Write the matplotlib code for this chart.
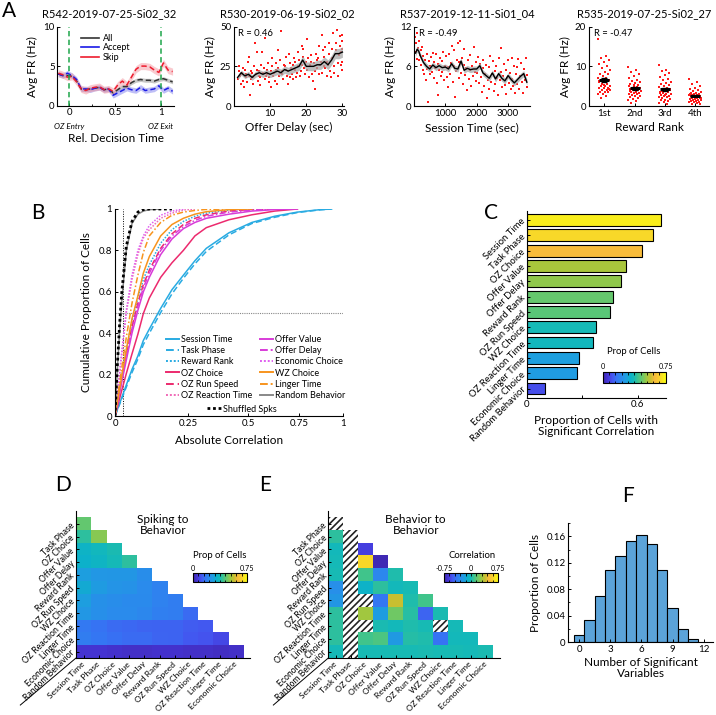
import numpy as np
import matplotlib
matplotlib.use('Agg')
import matplotlib.pyplot as plt
from matplotlib.colors import LinearSegmentedColormap, Normalize
from matplotlib.cm import ScalarMappable
from matplotlib.lines import Line2D
from matplotlib.patches import Rectangle
import matplotlib.ticker as mticker

plt.rcParams['font.family'] = ['Lato', 'DejaVu Sans']
plt.rcParams['hatch.linewidth'] = 1.2
plt.rcParams['axes.linewidth'] = 0.8

# ---------------- DATA ----------------
# Panel A1: firing rate vs relative decision time
a1_time = [-0.12, -0.07, -0.02, 0.03, 0.08, 0.13, 0.18, 0.23, 0.28, 0.33, 0.38, 0.43, 0.48,
           0.53, 0.58, 0.63, 0.68, 0.73, 0.78, 0.83, 0.88, 0.93, 0.98, 1.03, 1.08, 1.13]
a1_skip = [4.1, 3.9, 3.6, 3.7, 3.0, 2.1, 1.9, 2.2, 2.3, 2.4, 2.0, 2.1, 1.8,
           2.6, 3.1, 2.6, 3.6, 4.6, 5.0, 5.0, 4.9, 4.5, 4.2, 5.4, 4.5, 4.3]
a1_accept = [4.0, 3.8, 4.1, 3.8, 3.3, 2.1, 2.1, 2.0, 2.2, 2.3, 2.0, 2.1, 1.3,
             1.6, 1.9, 2.2, 2.0, 1.9, 2.3, 1.9, 2.0, 2.1, 2.5, 1.9, 2.2, 1.8]
a1_all = [4.0, 3.8, 3.8, 3.7, 3.1, 2.1, 2.0, 2.1, 2.2, 2.3, 2.0, 2.1, 1.6,
          2.0, 2.4, 2.4, 2.9, 3.2, 3.3, 3.2, 3.2, 3.1, 3.3, 3.4, 3.2, 3.0]
a1_sem = {'All': 0.25, 'Accept': 0.35, 'Skip': 0.45}

# Panel A2: firing rate vs offer delay
a2_x = [1.2, 1.5, 1.8, 1.3, 1.7, 2.1, 2.4, 2.6, 2.9, 2.3, 3.0, 3.3, 3.6, 3.8, 3.4,
        4.1, 4.4, 4.6, 4.2, 4.8, 5.0, 5.3, 5.6, 5.2, 5.9, 6.1, 6.4, 6.7, 6.3, 6.9,
        7.0, 7.3, 7.6, 7.2, 7.8, 8.1, 8.5, 8.7, 8.3, 8.9, 9.0, 9.4, 9.6, 9.2, 9.8,
        10.1, 10.3, 10.6, 10.8, 10.4, 11.0, 11.3, 11.7, 11.5, 11.9, 12.2, 12.5, 12.8, 12.1, 12.6,
        13.0, 13.3, 13.6, 13.8, 13.4, 14.1, 14.5, 14.7, 14.3, 14.9, 15.0, 15.4, 15.6, 15.2, 15.8,
        16.1, 16.4, 16.7, 16.3, 16.9, 17.0, 17.3, 17.6, 17.2, 17.8, 18.1, 18.5, 18.7, 18.3, 18.9,
        19.0, 19.4, 19.6, 19.2, 19.8, 20.1, 20.4, 20.7, 20.3, 20.9, 21.0, 21.3, 21.6, 21.2, 21.8,
        22.1, 22.5, 22.7, 22.3, 22.9, 23.0, 23.4, 23.6, 23.2, 23.8, 24.1, 24.4, 24.7, 24.3, 24.9,
        25.0, 25.3, 25.6, 25.2, 25.8, 26.1, 26.4, 26.7, 26.3, 26.9, 27.0, 27.3, 27.6, 27.2, 27.8,
        28.1, 28.5, 28.7, 28.3, 28.9, 29.0, 29.4, 29.6, 29.2, 29.8, 30.0, 29.95, 29.9, 30.0, 29.7]
a2_y = [17, 22, 14, 25, 19, 20, 16, 24, 12, 21, 23, 18, 15, 28, 20,
        19, 7, 22, 31, 17, 21, 14, 25, 18, 40, 20, 34, 16, 23, 19,
        22, 18, 26, 13, 34, 21, 43, 17, 24, 19, 20, 27, 15, 23, 18,
        22, 12, 25, 19, 30, 21, 16, 27, 23, 14, 24, 19, 29, 35, 21,
        47, 22, 17, 26, 20, 25, 31, 19, 23, 14, 22, 27, 18, 33, 24,
        20, 26, 30, 17, 23, 28, 21, 34, 18, 25, 29, 22, 38, 19, 26,
        31, 24, 20, 36, 28, 23, 30, 18, 42, 26, 25, 32, 20, 28, 16,
        27, 11, 33, 22, 29, 24, 38, 20, 30, 26, 28, 21, 35, 45, 25,
        31, 24, 19, 37, 28, 26, 40, 22, 33, 18, 30, 46, 25, 36, 21,
        35, 48, 27, 40, 19, 32, 44, 26, 38, 23, 36, 41, 28, 45, 34]
a2_line_x = list(range(1, 31))
a2_line_y = [18, 21, 19, 20, 18, 20, 21, 20, 21, 20, 21, 22, 21, 23, 22,
             23, 24, 25, 29, 25, 25, 25, 26, 26, 28, 26, 29, 33, 33, 34]

# Panel A3: firing rate vs session time
a3_t = [20, 40, 60, 80, 110, 130, 150, 170, 190, 210, 230, 260, 280, 300, 330, 350, 380, 400, 430, 460,
        480, 500, 520, 550, 570, 600, 630, 650, 680, 700, 730, 760, 780, 800, 820, 850, 880, 900, 930, 960,
        980, 1010, 1040, 1070, 1090, 1120, 1150, 1180, 1200, 1230, 1260, 1290, 1310, 1340, 1370, 1390,
        1420, 1450, 1470, 1500, 1530, 1550, 1580, 1600, 1630, 1660, 1690, 1720, 1750, 1780, 1800, 1830,
        1860, 1880, 1910, 1940, 1970, 1990, 2020, 2050, 2080, 2100, 2130, 2160, 2190, 2210, 2240, 2270,
        2290, 2320, 2350, 2380, 2400, 2430, 2460, 2480, 2510, 2540, 2570, 2590, 2620, 2650, 2680, 2700,
        2730, 2760, 2780, 2810, 2840, 2870, 2890, 2920, 2950, 2980, 3000, 3030, 3060, 3090, 3110, 3140,
        3170, 3190, 3220, 3250, 3280, 3300, 3330, 3360, 3390, 3420, 3450, 3480, 3500, 3530, 3560, 3590, 3600]
a3_y = [10.5, 8.2, 9.6, 7.1, 11.0, 8.8, 6.9, 9.9, 7.7, 8.4, 6.2, 8.9, 5.4, 7.5, 4.8, 6.9, 3.9, 7.9, 5.6, 0.6,
        6.8, 4.9, 6.1, 7.4, 5.1, 8.0, 4.3, 6.6, 5.8, 7.9, 3.5, 6.4, 1.7, 5.5, 7.2, 4.6, 6.8, 5.2, 8.1, 3.9,
        6.1, 7.5, 4.4, 5.9, 2.8, 7.8, 4.9, 6.5, 9.1, 3.6, 6.0, 8.4, 1.4, 5.3, 7.0, 9.6,
        4.2, 6.6, 9.9, 5.0, 7.3, 3.3, 6.2, 8.6, 4.7, 5.8, 2.4, 6.9, 4.1, 5.4, 7.7, 3.0,
        6.1, 4.6, 8.9, 5.2, 3.8, 6.6, 5.0, 7.4, 3.5, 6.3, 4.4, 2.1, 5.7, 7.0, 3.1, 4.8,
        6.2, 1.2, 4.0, 5.9, 2.6, 7.6, 3.7, 4.9, 6.8, 2.3, 5.3, 3.4, 6.0, 4.2, 1.6, 7.2,
        3.9, 5.1, 8.8, 2.8, 4.6, 6.4, 3.2, 5.5, 1.8, 4.3, 6.9, 3.5, 5.0, 2.5, 7.3, 4.1,
        3.0, 6.0, 2.0, 4.8, 5.9, 3.3, 7.1, 2.6, 4.5, 6.5, 3.6, 1.9, 5.6, 4.0, 7.2, 2.9, 4.7]
a3_line_t = [50, 100, 150, 200, 300, 400, 500, 600, 700, 800, 900, 1000, 1100, 1200, 1300, 1400,
             1500, 1600, 1700, 1800, 1900, 2000, 2100, 2200, 2300, 2400, 2500, 2600, 2700, 2800,
             2900, 3000, 3100, 3200, 3300, 3400, 3500, 3600]
a3_line_y = [8.0, 8.6, 8.3, 7.6, 6.6, 6.0, 5.6, 6.2, 5.8, 6.1, 5.8, 5.9, 5.6, 6.4, 5.7, 5.6,
             6.8, 5.4, 5.7, 5.5, 5.6, 5.6, 6.1, 5.0, 4.6, 4.2, 5.0, 4.1, 4.9, 4.2,
             3.8, 4.6, 4.0, 3.5, 4.0, 4.5, 4.9, 3.6]

# Panel A4: firing rate by reward rank
a4_ranks = ['1st', '2nd', '3rd', '4th']
a4_1st = [17, 12.5, 12, 11.5, 11, 10.5, 10, 9.5, 9, 8.5, 8, 8, 7.5, 7, 7, 6.5, 6.5, 6, 6, 5.5,
          5.5, 5, 5, 5, 4.5, 4.5, 4.5, 4, 4, 4, 3.5, 3.5, 3.5, 3, 3, 2.5, 2, 4.2, 5.2, 6.2]
a4_2nd = [9.8, 9, 8.5, 8, 7.5, 7, 6.5, 6.2, 6, 5.8, 5.5, 5.2, 5, 5, 4.8, 4.6, 4.5, 4.4, 4.2, 4,
          4, 3.8, 3.6, 3.5, 3.3, 3.2, 3, 3, 2.8, 2.6, 2.5, 2.2, 2, 1.8, 1.5, 1.2, 0.8, 4.3, 5.3, 3.7]
a4_3rd = [10.3, 9, 8.8, 8.2, 7.8, 7.2, 6.8, 6.5, 6, 5.8, 5.5, 5.2, 5, 4.8, 4.5, 4.3, 4, 3.8, 3.6, 3.5,
          3.3, 3.1, 3, 2.8, 2.6, 2.5, 2.3, 2.2, 2, 1.8, 1.6, 1.5, 1.2, 1, 0.8, 0.5, 3.9, 4.4, 2.9, 3.4]
a4_4th = [6.8, 6, 5.5, 5, 4.6, 4.3, 4, 3.8, 3.6, 3.4, 3.2, 3, 3, 2.9, 2.8, 2.7, 2.6, 2.5, 2.4, 2.3,
          2.2, 2.1, 2, 2, 1.9, 1.8, 1.7, 1.6, 1.5, 1.4, 1.3, 1.2, 1.1, 1, 0.9, 0.8, 0.6, 0.5, 2.5, 3.1]
a_titles = ['R542-2019-07-25-Si02_32', 'R530-2019-06-19-Si02_02', 'R537-2019-12-11-Si01_04',
            'R535-2019-07-25-Si02_27']

# Panel B: cumulative distributions of absolute correlation (x axis is compressive)
cdf_x = [0, 0.007, 0.014, 0.021, 0.035, 0.053, 0.072, 0.09, 0.11, 0.149, 0.189, 0.231, 0.275, 0.32,
         0.414, 0.516, 0.625, 0.741, 0.866, 0.932]
cdf_session = [0, 0.03, 0.06, 0.09, 0.15, 0.225, 0.29, 0.365, 0.42, 0.52, 0.61, 0.68, 0.75, 0.81,
               0.885, 0.935, 0.965, 0.985, 0.997, 1.0]
cdf_taskphase = [0, 0.028, 0.056, 0.084, 0.14, 0.21, 0.275, 0.345, 0.40, 0.50, 0.59, 0.665, 0.735,
                 0.795, 0.875, 0.93, 0.96, 0.983, 0.996, 1.0]
cdf_rewardrank = [0, 0.065, 0.13, 0.195, 0.32, 0.46, 0.57, 0.66, 0.73, 0.835, 0.9, 0.94, 0.965,
                  0.98, 0.995, 1.0]
cdf_ozchoice = [0, 0.042, 0.084, 0.125, 0.205, 0.30, 0.395, 0.495, 0.57, 0.67, 0.74, 0.80, 0.87,
                0.91, 0.948, 0.972, 0.99, 1.0]
cdf_ozrunspeed = [0, 0.062, 0.124, 0.185, 0.30, 0.43, 0.545, 0.635, 0.705, 0.81, 0.88, 0.925,
                  0.955, 0.972, 0.99, 0.998, 1.0]
cdf_ozrt = [0, 0.1, 0.2, 0.3, 0.5, 0.66, 0.78, 0.86, 0.9, 0.955, 0.98, 0.995, 1.0]
cdf_offervalue = [0, 0.055, 0.11, 0.165, 0.27, 0.40, 0.51, 0.60, 0.67, 0.78, 0.855, 0.905, 0.935,
                  0.955, 0.975, 0.99, 0.997, 1.0]
cdf_offerdelay = [0, 0.06, 0.12, 0.18, 0.29, 0.42, 0.53, 0.62, 0.69, 0.80, 0.87, 0.915, 0.945,
                  0.965, 0.985, 0.995, 1.0]
cdf_econ = [0, 0.105, 0.21, 0.315, 0.51, 0.68, 0.8, 0.87, 0.92, 0.97, 0.99, 1.0]
cdf_wzchoice = [0, 0.065, 0.13, 0.195, 0.32, 0.47, 0.58, 0.69, 0.77, 0.87, 0.925, 0.955, 0.975,
                0.987, 0.997, 1.0]
cdf_linger = [0, 0.08, 0.16, 0.235, 0.38, 0.545, 0.68, 0.79, 0.87, 0.935, 0.97, 0.985, 0.993,
              0.998, 1.0]
cdf_random = [0, 0.22, 0.41, 0.56, 0.8, 0.93, 0.975, 0.99, 0.997, 1.0]
cdf_shuffled = [0, 0.24, 0.44, 0.6, 0.82, 0.94, 0.985, 0.997, 1.0, 1.0, 1.0]
sig_threshold = 0.025

# Panel C: proportion of cells with significant correlation
c_vars = ['Session Time', 'Task Phase', 'OZ Choice', 'Offer Value', 'Offer Delay', 'Reward Rank',
          'OZ Run Speed', 'WZ Choice', 'OZ Reaction Time', 'Linger Time', 'Economic Choice',
          'Random Behavior']
c_props = [0.725, 0.685, 0.625, 0.535, 0.508, 0.464, 0.45, 0.374, 0.358, 0.28, 0.271, 0.098]

# Panels D/E labels
de_xlabels = ['Session Time', 'Task Phase', 'OZ Choice', 'Offer Value', 'Offer Delay', 'Reward Rank',
              'OZ Run Speed', 'WZ Choice', 'OZ Reaction Time', 'Linger Time', 'Economic Choice']
de_ylabels = ['Task Phase', 'OZ Choice', 'Offer Value', 'Offer Delay', 'Reward Rank', 'OZ Run Speed',
              'WZ Choice', 'OZ Reaction Time', 'Linger Time', 'Economic Choice', 'Random Behavior']

# Panel D: spiking-to-behavior proportion of cells (lower triangle rows)
d_rows = [
    [0.46],
    [0.40, 0.50],
    [0.34, 0.36, 0.38],
    [0.33, 0.345, 0.37, 0.40],
    [0.28, 0.26, 0.255, 0.255, 0.23],
    [0.31, 0.27, 0.25, 0.245, 0.225, 0.20],
    [0.28, 0.24, 0.23, 0.22, 0.22, 0.20, 0.19],
    [0.26, 0.235, 0.225, 0.225, 0.215, 0.195, 0.19, 0.15],
    [0.18, 0.165, 0.15, 0.145, 0.14, 0.135, 0.135, 0.125, 0.12],
    [0.19, 0.17, 0.16, 0.15, 0.15, 0.14, 0.135, 0.12, 0.11, 0.09],
    [0.05, 0.05, 0.045, 0.04, 0.04, 0.045, 0.045, 0.04, 0.04, 0.035, 0.04],
]

# Panel E: behavior-to-behavior correlation (nan = undefined, hatched)
nan = float('nan')
e_rows = [
    [nan],
    [0.05, nan],
    [-0.02, nan, -0.6],
    [-0.01, nan, 0.62, -0.72],
    [0.0, nan, 0.09, -0.32, 0.02],
    [-0.28, nan, -0.08, 0.05, -0.02, 0.0],
    [-0.24, nan, nan, -0.4, 0.39, 0.02, 0.09],
    [0.05, nan, 0.30, -0.2, 0.2, 0.04, -0.47, 0.01],
    [0.05, nan, nan, 0.01, -0.02, 0.02, 0.0, nan, -0.01],
    [0.05, nan, 0.09, 0.12, -0.22, 0.03, 0.02, -0.42, -0.02, -0.02],
    [-0.01, nan, 0.0, 0.0, 0.0, 0.0, 0.01, 0.0, 0.0, -0.01, 0.01],
]

# Panel F: histogram of number of significant variables
f_counts = [0, 1, 2, 3, 4, 5, 6, 7, 8, 9, 10, 11]
f_props = [0.010, 0.034, 0.069, 0.109, 0.131, 0.153, 0.163, 0.148, 0.109, 0.051, 0.019, 0.0045]

# ---------------- STYLE ----------------
parula = LinearSegmentedColormap.from_list('parula_like', [
    (0.00, '#3E26A8'), (0.08, '#4636DA'), (0.15, '#4456F0'), (0.22, '#3674F4'),
    (0.30, '#2A8CEC'), (0.37, '#1E9EE0'), (0.44, '#0CB2CA'), (0.50, '#16BAB6'),
    (0.56, '#40C48C'), (0.63, '#6CC868'), (0.70, '#A0C840'), (0.76, '#C8C030'),
    (0.83, '#F8BA3C'), (0.90, '#F8D22C'), (1.00, '#F9FB14')])

W, H = 716, 715
fig = plt.figure(figsize=(W / 100, H / 100), dpi=100)


def add_ax(x0, y0, x1, y1):
    return fig.add_axes([x0 / W, 1 - y1 / H, (x1 - x0) / W, (y1 - y0) / H])


def style(ax, size=7):
    for s in ['top', 'right']:
        ax.spines[s].set_visible(False)
    ax.tick_params(direction='in', length=2.5, width=0.7, labelsize=size, pad=2)
    ax.tick_params(which='minor', direction='in', length=1.5, width=0.6)


def ftext(x, y, s, **kw):
    return fig.text(x / W, 1 - y / H, s, **kw)


LBL = 8.5
TTL = 8.0
RED = '#FF1A1A'

# titles of the A row
for title, xc in zip(a_titles, [109, 287.5, 467, 644]):
    ftext(xc, 14, title, fontsize=TTL, ha='center', va='center')

# ---- A1 ----
ax = add_ax(57.4, 26.7, 174.4, 105.5)
style(ax)
t = np.array(a1_time)
series = [('All', a1_all, '#333333', '#9A9A9A'),
          ('Accept', a1_accept, '#1A1AE6', '#8C8CF0'),
          ('Skip', a1_skip, '#EE1C2E', '#F5A0A8')]
for name, vals, col, band in series:
    v = np.array(vals)
    ax.fill_between(t, v - a1_sem[name], v + a1_sem[name], color=band, alpha=0.55, lw=0)
for name, vals, col, band in series:
    ax.plot(t, vals, color=col, lw=1.1, ls=(0, (3.5, 2)))
for xv in [0, 1]:
    ax.axvline(xv, color='#1EA64A', lw=1.1, ls=(0, (3.5, 2.2)))
ax.set_xlim(-0.13, 1.15)
ax.set_ylim(0, 10)
ax.set_xticks([0, 0.5, 1])
ax.set_xticklabels(['0', '0.5', '1'])
ax.xaxis.set_minor_locator(mticker.FixedLocator([0.25, 0.75]))
ax.set_yticks([0, 5, 10])
ax.set_ylabel('Avg FR (Hz)', fontsize=LBL, labelpad=4)
ax.set_xlabel('Rel. Decision Time', fontsize=LBL, labelpad=11)
ax.text(0, -0.27, 'OZ Entry', transform=ax.get_xaxis_transform(), ha='center', va='center',
        fontsize=5.8, style='italic')
ax.text(1, -0.27, 'OZ Exit', transform=ax.get_xaxis_transform(), ha='center', va='center',
        fontsize=5.8, style='italic')
hl = [Line2D([], [], color=c, lw=1.2) for _, _, c, _ in series]
ax.legend(hl, [s[0] for s in series], loc='upper left', bbox_to_anchor=(0.14, 1.0), frameon=False,
          fontsize=6.5, handlelength=2.0, handletextpad=0.4, labelspacing=0.05, borderpad=0.3)

# ---- A2 ----
ax = add_ax(234, 26.7, 343.5, 106)
style(ax)
ax.scatter(a2_x, a2_y, s=2.5, marker='s', color=RED, lw=0, zorder=1)
ly = np.array(a2_line_y)
sem2 = 1.5 + 0.06 * np.array(a2_line_x)
ax.fill_between(a2_line_x, ly - sem2, ly + sem2, color='#A8A8A8', alpha=0.75, lw=0, zorder=2)
ax.plot(a2_line_x, a2_line_y, color='black', lw=1.0, zorder=3)
ax.set_xlim(0, 30.3)
ax.set_ylim(0, 50)
ax.set_xticks([10, 20, 30])
ax.set_yticks([0, 25, 50])
ax.set_ylabel('Avg FR (Hz)', fontsize=LBL, labelpad=3)
ax.set_xlabel('Offer Delay (sec)', fontsize=LBL, labelpad=3)
ax.text(0.04, 0.97, 'R = 0.46', transform=ax.transAxes, fontsize=6.8, va='top')

# ---- A3 ----
ax = add_ax(414, 26.7, 530, 106)
style(ax)
ax.scatter(a3_t, a3_y, s=2.5, marker='s', color=RED, lw=0, zorder=1)
ly = np.array(a3_line_y)
ax.fill_between(a3_line_t, ly - 0.45, ly + 0.45, color='#A8A8A8', alpha=0.75, lw=0, zorder=2)
ax.plot(a3_line_t, a3_line_y, color='black', lw=1.0, zorder=3)
ax.set_xlim(0, 3700)
ax.set_ylim(0, 12)
ax.set_xticks([1000, 2000, 3000])
ax.set_yticks([0, 6, 12])
ax.set_ylabel('Avg FR (Hz)', fontsize=LBL, labelpad=3)
ax.set_xlabel('Session Time (sec)', fontsize=LBL, labelpad=3)
ax.text(0.04, 0.97, 'R = -0.49', transform=ax.transAxes, fontsize=6.8, va='top')

# ---- A4 ----
ax = add_ax(589, 26.7, 709, 106)
style(ax)
for k, vals in enumerate([a4_1st, a4_2nd, a4_3rd, a4_4th]):
    v = np.array(vals)
    n = len(v)
    jit = ((np.arange(n) * 0.618034) % 1 - 0.5) * 0.42
    ax.scatter(k + 1 + jit, v, s=2.5, marker='s', color=RED, lw=0, zorder=1)
    m = v.mean()
    se = v.std(ddof=1) / np.sqrt(n)
    ax.errorbar(k + 1, m, yerr=se, color='black', capsize=2.5, lw=1.0, capthick=1.0, zorder=3)
    ax.plot([k + 1], [m], marker='_', ms=7, mew=2.2, color='black', zorder=3)
ax.set_xlim(0.5, 4.45)
ax.set_ylim(0, 20)
ax.set_xticks([1, 2, 3, 4])
ax.set_xticklabels(a4_ranks)
ax.set_yticks([0, 10, 20])
ax.set_ylabel('Avg FR (Hz)', fontsize=LBL, labelpad=3)
ax.set_xlabel('Reward Rank', fontsize=LBL, labelpad=3)
ax.text(0.04, 0.97, 'R = -0.47', transform=ax.transAxes, fontsize=6.8, va='top')

# ---- B ----
ax = add_ax(115, 209, 343, 416)
ax.set_xscale('function', functions=(lambda x: np.log2(1 + np.maximum(x, -0.99)),
                                     lambda y: np.power(2.0, y) - 1))
style(ax, 7)
CY, PK, PK2, MG, MG2, OR = '#29ABE2', '#EC2A6E', '#F06AB8', '#D83CD8', '#E060F0', '#F7941E'
curves = [
    ('Session Time', cdf_session, CY, '-'),
    ('Task Phase', cdf_taskphase, CY, (0, (4, 2))),
    ('Reward Rank', cdf_rewardrank, CY, (0, (1, 1))),
    ('OZ Choice', cdf_ozchoice, PK, '-'),
    ('OZ Run Speed', cdf_ozrunspeed, PK, (0, (4, 2))),
    ('OZ Reaction Time', cdf_ozrt, PK2, (0, (1, 1))),
    ('Offer Value', cdf_offervalue, MG, '-'),
    ('Offer Delay', cdf_offerdelay, MG, (0, (4, 1.5, 1, 1.5))),
    ('Economic Choice', cdf_econ, MG2, (0, (1, 1))),
    ('WZ Choice', cdf_wzchoice, OR, '-'),
    ('Linger Time', cdf_linger, OR, (0, (4, 1.5, 1, 1.5))),
    ('Random Behavior', cdf_random, '#888888', '-'),
]
ax.axhline(0.5, color='#888888', lw=0.8, ls=(0, (1, 1)), zorder=1)
ax.axvline(sig_threshold, color='black', lw=0.7, ls=(0, (1, 1.5)), zorder=1)
handles = []
for name, ys, col, ls in curves:
    ax.plot(cdf_x[:len(ys)], ys, color=col, ls=ls, lw=1.1, zorder=2)
    handles.append(Line2D([], [], color=col, ls=ls, lw=1.4))
ax.plot(cdf_x[:len(cdf_shuffled)], cdf_shuffled, color='black', ls=(0, (1, 1)), lw=2.0, zorder=3)
ax.set_xlim(0, 1)
ax.set_ylim(0, 1)
ax.set_xticks([0, 0.25, 0.5, 0.75, 1])
ax.set_xticklabels(['0', '0.25', '0.5', '0.75', '1'])
ax.xaxis.set_minor_locator(mticker.NullLocator())
ax.set_yticks([0, 0.2, 0.4, 0.6, 0.8, 1])
ax.set_yticklabels(['0', '0.2', '0.4', '0.6', '0.8', '1'])
ax.set_ylabel('Cumulative Proportion of Cells', fontsize=LBL, labelpad=5)
ax.set_xlabel('Absolute Correlation', fontsize=LBL, labelpad=5)
fig.legend(handles, [c[0] for c in curves], ncol=2, loc='upper left',
           bbox_to_anchor=(161 / W, 1 - 330.5 / H), frameon=False, fontsize=6.5,
           handlelength=1.5, handletextpad=0.2, labelspacing=0.24, columnspacing=0.85,
           borderpad=0)
fig.legend([Line2D([], [], color='black', ls=(0, (1, 1)), lw=2.0)], ['Shuffled Spks'],
           loc='upper center', bbox_to_anchor=(242 / W, 1 - 400 / H), frameon=False, fontsize=6.5,
           handlelength=1.5, handletextpad=0.2, borderpad=0)

# ---- C ----
ax = add_ax(527, 210.7, 665.7, 397.7)
style(ax, 7)
norm_c = Normalize(0, 0.75)
pos = np.arange(1, len(c_vars) + 1)
ax.barh(pos, c_props, height=0.78, color=parula(norm_c(np.array(c_props))), edgecolor='black',
        lw=0.8)
ax.set_ylim(12.6, 0.4)
ax.set_xlim(0, 0.752)
ax.set_yticks(pos)
ax.set_yticklabels(c_vars, rotation=45, ha='right', va='center', rotation_mode='anchor', fontsize=6.8)
ax.tick_params(axis='y', length=2)
ax.set_xticks([0, 0.3, 0.6])
ax.set_xticklabels(['0', '', '0.6'])
ax.set_xlabel('Proportion of Cells with\nSignificant Correlation', fontsize=LBL, labelpad=4,
              linespacing=1.0)
cax = add_ax(602.7, 372, 665.7, 383)
cb = fig.colorbar(ScalarMappable(norm_c, parula), cax=cax, orientation='horizontal')
cb.set_ticks([0, 0.75])
cb.set_ticklabels(['0', '0.75'])
cb.ax.xaxis.set_minor_locator(mticker.MultipleLocator(0.075))
cb.ax.tick_params(which='both', direction='in', top=True, bottom=True, labeltop=True,
                  labelbottom=False, length=1.8, width=0.6, labelsize=5.2, pad=1.5)
cb.outline.set_linewidth(0.8)
ftext(634, 352, 'Prop of Cells', fontsize=6.8, ha='center', va='center')


# ---- D & E ----
def tri_matrix(rows):
    M = np.full((11, 11), np.nan)
    for i, r in enumerate(rows):
        M[i, :len(r)] = r
    return M


def tri_axes(x0, x1, M, cmap, vmin, vmax, hatch_rows=None):
    ax = add_ax(x0, 511, x1, 658)
    style(ax, 6.2)
    ax.imshow(np.ma.masked_invalid(M), cmap=cmap, vmin=vmin, vmax=vmax, aspect='auto',
              extent=(-0.5, 10.5, 10.5, -0.5), interpolation='nearest')
    if hatch_rows is not None:
        for i, r in enumerate(hatch_rows):
            for j, v in enumerate(r):
                if np.isnan(v):
                    ax.add_patch(Rectangle((j - 0.5, i - 0.5), 1, 1, facecolor='white',
                                           edgecolor='#222222', lw=0, hatch='/////'))
    ax.set_xlim(-0.5, 10.95)
    ax.set_ylim(10.5, -1.0)
    ax.set_xticks(range(11))
    ax.set_xticklabels(de_xlabels, rotation=45, ha='right', va='center', rotation_mode='anchor',
                       fontsize=6.1)
    ax.set_yticks(range(11))
    ax.set_yticklabels(de_ylabels, rotation=45, ha='right', va='center', rotation_mode='anchor',
                       fontsize=6.2)
    ax.tick_params(axis='x', pad=3.5)
    ax.tick_params(axis='y', pad=2)
    ax.plot([0, -0.32], [0, -0.32], transform=ax.transAxes, clip_on=False, color='black', lw=0.7)
    return ax


def small_cbar(x0, y0, x1, y1, vmin, vmax, ticks, labels, minor):
    cax = add_ax(x0, y0, x1, y1)
    cb = fig.colorbar(ScalarMappable(Normalize(vmin, vmax), parula), cax=cax,
                      orientation='horizontal')
    cb.set_ticks(ticks)
    cb.set_ticklabels(labels)
    cb.ax.xaxis.set_minor_locator(mticker.MultipleLocator(minor))
    cb.ax.tick_params(which='both', direction='in', top=True, bottom=True, labeltop=True,
                      labelbottom=False, length=1.8, width=0.6, labelsize=5.2, pad=1.0)
    cb.outline.set_linewidth(0.8)
    return cb


MD = tri_matrix(d_rows)
axD = tri_axes(76, 250, MD, parula, 0, 0.75)
ftext(163, 525, 'Spiking to\nBehavior', fontsize=8.5, ha='center', va='center', linespacing=1.1)
small_cbar(193, 573, 247, 582, 0, 0.75, [0, 0.75], ['0', '0.75'], 0.075)
ftext(220, 555, 'Prop of Cells', fontsize=6.8, ha='center', va='center')

ME = tri_matrix(e_rows)
axE = tri_axes(328.3, 500, ME, parula, -0.75, 0.75, hatch_rows=e_rows)
ftext(415.7, 525, 'Behavior to\nBehavior', fontsize=8.5, ha='center', va='center', linespacing=1.1)
small_cbar(444, 573, 498, 582, -0.75, 0.75, [-0.75, 0, 0.75], ['-0.75', '0', '0.75'], 0.15)
ftext(471.7, 555, 'Correlation', fontsize=6.8, ha='center', va='center')

# ---- F ----
ax = add_ax(568.3, 523.3, 713, 642)
style(ax, 7)
ax.bar(f_counts, f_props, width=1.0, color='#5BA3D9', edgecolor='black', lw=0.8)
ax.set_xlim(-1.05, 12.9)
ax.set_ylim(0, 0.18)
ax.set_xticks([0, 3, 6, 9, 12])
ax.set_yticks([0, 0.04, 0.08, 0.12, 0.16])
ax.set_yticklabels(['0', '0.04', '0.08', '0.12', '0.16'])
ax.yaxis.set_minor_locator(mticker.MultipleLocator(0.02))
ax.set_ylabel('Proportion of Cells', fontsize=LBL, labelpad=4)
ax.set_xlabel('Number of Significant\nVariables', fontsize=LBL, labelpad=2, linespacing=1.0)

# ---- panel letters ----
for letter, x, y in [('A', 2, 1), ('B', 31, 203), ('C', 484, 203), ('D', 55, 475), ('E', 259, 475),
                     ('F', 622, 486)]:
    ftext(x, y, letter, fontsize=15, ha='left', va='top')

fig.savefig('out.png', dpi=100)
